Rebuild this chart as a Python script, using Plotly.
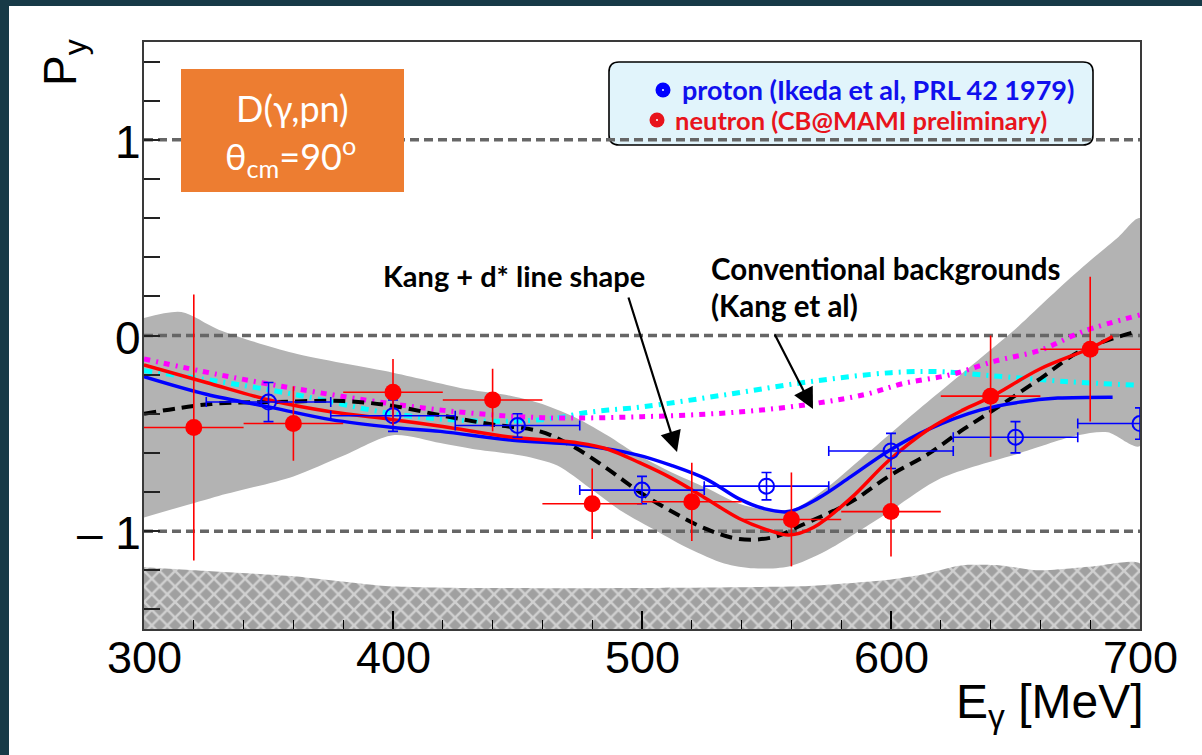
import plotly.graph_objects as go

# ---------------- data ----------------
# proton points (Ikeda et al, PRL 42 1979)
E_proton = [350, 400, 450, 500, 550, 600, 650, 700]
P_proton = [-0.34, -0.41, -0.46, -0.79, -0.77, -0.59, -0.52, -0.45]
dP_proton = [0.10, 0.08, 0.06, 0.07, 0.07, 0.09, 0.08, 0.08]
dE_proton = 25

# neutron points (CB@MAMI preliminary)
E_neutron = [320, 360, 400, 440, 480, 520, 560, 600, 640, 680]
P_neutron = [-0.47, -0.45, -0.29, -0.33, -0.86, -0.85, -0.94, -0.90, -0.31, -0.07]
dP_neutron = [0.68, 0.19, 0.17, 0.16, 0.18, 0.20, 0.24, 0.23, 0.31, 0.37]
dE_neutron = 20

# model curves
E_model_p = [300, 325, 352, 375, 400, 419, 448, 475, 498, 512, 526, 539, 549, 559, 571, 584, 599, 615, 636, 652, 667, 689]
P_model_p = [-0.21, -0.30, -0.37, -0.43, -0.47, -0.49, -0.535, -0.56, -0.61, -0.665, -0.735, -0.835, -0.885, -0.90, -0.83, -0.72, -0.59, -0.48, -0.38, -0.34, -0.32, -0.315]

E_model_n = [300, 325, 352, 375, 400, 420, 448, 475, 486, 499, 512, 526, 539, 552, 559, 569, 584, 599, 615, 629, 640, 660, 680, 689]
P_model_n = [-0.15, -0.24, -0.335, -0.39, -0.43, -0.465, -0.52, -0.55, -0.58, -0.65, -0.73, -0.835, -0.935, -1.0, -1.02, -0.98, -0.83, -0.64, -0.48, -0.38, -0.315, -0.17, -0.065, -0.005]

E_model_band = [300, 327, 352, 380, 400, 420, 440, 459, 472, 486, 499, 512, 526, 539, 553, 564, 584, 599, 615, 629, 640, 660, 676, 697]
P_model_band = [-0.40, -0.35, -0.34, -0.335, -0.36, -0.41, -0.455, -0.49, -0.565, -0.68, -0.80, -0.90, -0.99, -1.04, -1.03, -0.97, -0.85, -0.72, -0.605, -0.48, -0.39, -0.22, -0.08, 0.015]

E_bg_p = [300, 330, 360, 400, 430, 460, 480, 500, 535, 568, 600, 620, 640, 670, 700]
P_bg_p = [-0.18, -0.235, -0.30, -0.40, -0.435, -0.43, -0.39, -0.365, -0.30, -0.235, -0.19, -0.185, -0.205, -0.235, -0.255]

E_bg_n = [300, 330, 360, 400, 430, 460, 500, 540, 568, 590, 605, 624, 642, 660, 677, 700]
P_bg_n = [-0.12, -0.20, -0.27, -0.35, -0.395, -0.42, -0.415, -0.39, -0.35, -0.30, -0.245, -0.20, -0.13, -0.075, 0.02, 0.105]

# model uncertainty band
E_band_hi = [300, 315, 330, 360, 400, 430, 448, 460, 475, 486, 499, 512, 526, 539, 552, 562, 575, 588, 610, 637, 651, 664, 677, 691, 700]
P_band_hi = [0.09, 0.12, 0.03, -0.09, -0.19, -0.275, -0.31, -0.35, -0.43, -0.51, -0.615, -0.70, -0.78, -0.86, -0.895, -0.88, -0.77, -0.63, -0.39, -0.105, 0.045, 0.20, 0.35, 0.50, 0.60]
E_band_lo = [300, 330, 360, 380, 400, 419, 432, 452, 466, 479, 492, 506, 519, 533, 545, 559, 574, 597, 620, 652, 675, 687, 700]
P_band_lo = [-0.93, -0.82, -0.72, -0.615, -0.51, -0.55, -0.58, -0.615, -0.665, -0.78, -0.90, -1.0, -1.09, -1.165, -1.19, -1.18, -1.10, -0.92, -0.73, -0.60, -0.51, -0.495, -0.565]

# systematic uncertainty (hatched)
E_sys = [300, 320, 360, 397, 428, 500, 567, 598, 613, 628, 644, 659, 681, 700]
P_sys = [-1.185, -1.20, -1.23, -1.28, -1.29, -1.29, -1.28, -1.25, -1.22, -1.175, -1.175, -1.20, -1.18, -1.165]

ref_levels = [-1, 0, 1]
x_tick_vals = [300, 400, 500, 600, 700]
x_tick_text = ["300", "400", "500", "600", "700"]
y_tick_vals = [-1.4, -1.2, -1.0, -0.8, -0.6, -0.4, -0.2, 0.0, 0.2, 0.4, 0.6, 0.8, 1.0, 1.2, 1.4]
y_label_vals = [-1, 0, 1]
y_label_text = ["\u2013 1", "0", "1"]

# ---------------- layout geometry ----------------
W, H = 1202, 755
ML, MR, MT, MB = 144, 62, 42, 126
PW, PH = W - ML - MR, H - MT - MB


def fx(x):
    return (x - ML) / PW


def fy(y):
    return (H - MB - y) / PH


RED = "#ff0000"
BLUE = "#0000ff"

fig = go.Figure()

# grey model band
fig.add_trace(go.Scatter(
    x=E_band_hi + E_band_lo[::-1], y=P_band_hi + P_band_lo[::-1],
    fill="toself", fillcolor="#b3b3b3", mode="lines",
    line=dict(width=0, shape="spline", smoothing=0.8), hoverinfo="skip"))

# hatched systematic band
fig.add_trace(go.Scatter(
    x=E_sys + [700, 300], y=P_sys + [-1.6, -1.6],
    fill="toself", mode="lines", line=dict(width=0, shape="spline", smoothing=0.6),
    fillcolor="#a8a8a8",
    fillpattern=dict(shape="x", bgcolor="#a0a0a0", fgcolor="#ffffff", size=11, solidity=0.4),
    hoverinfo="skip"))

# reference levels
for lv in ref_levels:
    fig.add_trace(go.Scatter(x=[300, 700], y=[lv, lv], mode="lines",
                             line=dict(color="#666666", width=3.5, dash="9px,5px"), hoverinfo="skip"))

# background-only curves
fig.add_trace(go.Scatter(x=E_bg_p, y=P_bg_p, mode="lines",
                         line=dict(color="#00ffff", width=5, dash="8px,6px,2px,6px", shape="spline")))
fig.add_trace(go.Scatter(x=E_bg_n, y=P_bg_n, mode="lines",
                         line=dict(color="#ff00ff", width=5, dash="6px,6px,2px,6px", shape="spline")))

# Kang + d* curves
fig.add_trace(go.Scatter(x=E_model_band, y=P_model_band, mode="lines",
                         line=dict(color="#000000", width=4, dash="12px,7px", shape="spline")))
fig.add_trace(go.Scatter(x=E_model_p, y=P_model_p, mode="lines",
                         line=dict(color=BLUE, width=3.5, shape="spline")))
fig.add_trace(go.Scatter(x=E_model_n, y=P_model_n, mode="lines",
                         line=dict(color=RED, width=3.5, shape="spline")))

# proton data
fig.add_trace(go.Scatter(
    x=E_proton, y=P_proton, mode="markers",
    marker=dict(symbol="circle-open", size=15, color=BLUE, line=dict(width=2, color=BLUE)),
    error_y=dict(type="data", array=dP_proton, color=BLUE, thickness=1.6, width=5),
    error_x=dict(type="constant", value=dE_proton, color=BLUE, thickness=1.6, width=5)))

# neutron data
fig.add_trace(go.Scatter(
    x=E_neutron, y=P_neutron, mode="markers",
    marker=dict(symbol="circle", size=17, color=RED),
    error_y=dict(type="data", array=dP_neutron, color=RED, thickness=1.6, width=0),
    error_x=dict(type="constant", value=dE_neutron, color=RED, thickness=1.6, width=0)))

# legend dots on a pixel-aligned overlay
fig.add_trace(go.Scatter(
    x=[663, 657], y=[90, 120], mode="markers", xaxis="x2", yaxis="y2",
    marker=dict(symbol="circle", size=15, color=[BLUE, "#e8141c"], line=dict(width=0)),
    hoverinfo="skip"))
fig.add_trace(go.Scatter(
    x=[663, 657], y=[90, 120], mode="markers", xaxis="x2", yaxis="y2",
    marker=dict(symbol="circle", size=2, color="white", line=dict(width=0)), hoverinfo="skip"))

shapes = []
# frame bars of the slide
shapes.append(dict(type="rect", xref="paper", yref="paper", x0=fx(0), x1=fx(W), y0=fy(6), y1=fy(0),
                   fillcolor="#173a47", line=dict(width=0), layer="above"))
shapes.append(dict(type="rect", xref="paper", yref="paper", x0=fx(0), x1=fx(9), y0=fy(H), y1=fy(0),
                   fillcolor="#173a47", line=dict(width=0), layer="above"))
# reaction label box
shapes.append(dict(type="rect", xref="paper", yref="paper", x0=fx(181), x1=fx(404), y0=fy(192), y1=fy(69),
                   fillcolor="#ed7d31", line=dict(width=0), layer="above"))
# legend box with rounded corners
bx0, bx1, by0, by1, rr = 609, 1093, 62, 145, 10
rx, ry = rr / PW, rr / PH
X0, X1, Y0, Y1 = fx(bx0), fx(bx1), fy(by1), fy(by0)
path = (f"M {X0+rx},{Y0} L {X1-rx},{Y0} Q {X1},{Y0} {X1},{Y0+ry} L {X1},{Y1-ry} "
        f"Q {X1},{Y1} {X1-rx},{Y1} L {X0+rx},{Y1} Q {X0},{Y1} {X0},{Y1-ry} "
        f"L {X0},{Y0+ry} Q {X0},{Y0} {X0+rx},{Y0} Z")
shapes.append(dict(type="path", xref="paper", yref="paper", path=path,
                   fillcolor="#e1f4fb", line=dict(color="#000000", width=1.6), layer="below"))

annotations = []
lab_font = "Lato, 'Open Sans', sans-serif"
axis_family = "Liberation Sans, Arial, sans-serif"
annotations.append(dict(xref="paper", yref="paper", x=fx(292), y=fy(108), text="D(\u03b3,pn)",
                        showarrow=False, xanchor="center", yanchor="middle",
                        font=dict(family=lab_font, size=36, color="white")))
annotations.append(dict(xref="paper", yref="paper", x=fx(290), y=fy(156),
                        text="\u03b8<sub>cm</sub>=90<sup>o</sup>",
                        showarrow=False, xanchor="center", yanchor="middle",
                        font=dict(family=lab_font, size=36, color="white")))
annotations.append(dict(xref="paper", yref="paper", x=fx(680), y=fy(90),
                        text="<b>proton (Ikeda et al, PRL 42 1979)</b>",
                        showarrow=False, xanchor="left", yanchor="middle",
                        font=dict(family=lab_font, size=27, color="#1010ee")))
annotations.append(dict(xref="paper", yref="paper", x=fx(673), y=fy(120),
                        text="<b>neutron (CB@MAMI preliminary)</b>",
                        showarrow=False, xanchor="left", yanchor="middle",
                        font=dict(family=lab_font, size=25.5, color="#e8141c")))
annotations.append(dict(xref="paper", yref="paper", x=fx(514), y=fy(275),
                        text="<b>Kang + d* line shape</b>",
                        showarrow=False, xanchor="center", yanchor="middle",
                        font=dict(family=lab_font, size=29, color="black")))
annotations.append(dict(xref="paper", yref="paper", x=fx(709), y=fy(268),
                        text="<b>Conventional backgrounds</b>",
                        showarrow=False, xanchor="left", yanchor="middle",
                        font=dict(family=lab_font, size=29.5, color="black")))
annotations.append(dict(xref="paper", yref="paper", x=fx(709), y=fy(305),
                        text="<b>(Kang et al)</b>",
                        showarrow=False, xanchor="left", yanchor="middle",
                        font=dict(family=lab_font, size=29.5, color="black")))
# arrows
annotations.append(dict(xref="paper", yref="paper", x=fx(677), y=fy(452), ax=628 - 677, ay=296 - 452,
                        axref="pixel", ayref="pixel", text="", showarrow=True,
                        arrowhead=2, arrowsize=1.9, arrowwidth=2.2, arrowcolor="black"))
annotations.append(dict(xref="paper", yref="paper", x=fx(813), y=fy(409), ax=774 - 813, ay=333 - 409,
                        axref="pixel", ayref="pixel", text="", showarrow=True,
                        arrowhead=2, arrowsize=1.9, arrowwidth=2.2, arrowcolor="black"))
# tick labels
for v, t in zip(x_tick_vals, x_tick_text):
    annotations.append(dict(xref="x", yref="paper", x=v, y=fy(630), text=t, showarrow=False,
                            xanchor="center", yanchor="top",
                            font=dict(family=axis_family, size=45, color="black")))
for v, t in zip(y_label_vals, y_label_text):
    annotations.append(dict(xref="paper", yref="y", x=fx(143), y=v, yshift=-2, text=t, showarrow=False,
                            xanchor="right", yanchor="middle",
                            font=dict(family=axis_family, size=46, color="black")))
# axis titles
annotations.append(dict(xref="paper", yref="paper", x=fx(63), y=fy(62), text="P<sub>y</sub>",
                        textangle=-90, showarrow=False, xanchor="center", yanchor="middle",
                        font=dict(family=axis_family, size=46, color="black")))
annotations.append(dict(xref="paper", yref="paper", x=fx(1146), y=fy(673), text="E<sub>\u03b3</sub> [MeV]",
                        showarrow=False, xanchor="right", yanchor="top",
                        font=dict(family=axis_family, size=48, color="black")))

fig.update_layout(
    width=W, height=H,
    margin=dict(l=ML, r=MR, t=MT, b=MB, pad=0),
    paper_bgcolor="white", plot_bgcolor="white",
    showlegend=False,
    shapes=shapes, annotations=annotations,
    xaxis=dict(range=[300, 700], tickmode="array", tickvals=x_tick_vals, showticklabels=False,
               ticks="inside", ticklen=18, tickwidth=1.5, tickcolor="black",
               minor=dict(dtick=20, ticks="inside", ticklen=9, tickwidth=1, tickcolor="black"),
               showgrid=False, zeroline=False, showline=True, linecolor="#3a3a3a", linewidth=2,
               mirror=True),
    yaxis=dict(range=[-1.5, 1.5], tickmode="array", tickvals=y_tick_vals, showticklabels=False,
               ticks="inside", ticklen=16, tickwidth=1.5, tickcolor="#222",
               showgrid=False, zeroline=False, showline=True, linecolor="#3a3a3a", linewidth=2,
               mirror=True),
    xaxis2=dict(range=[ML, W - MR], overlaying="x", visible=False, fixedrange=True),
    yaxis2=dict(range=[H - MB, MT], overlaying="y", visible=False, fixedrange=True),
)

fig.write_html("out.html")
